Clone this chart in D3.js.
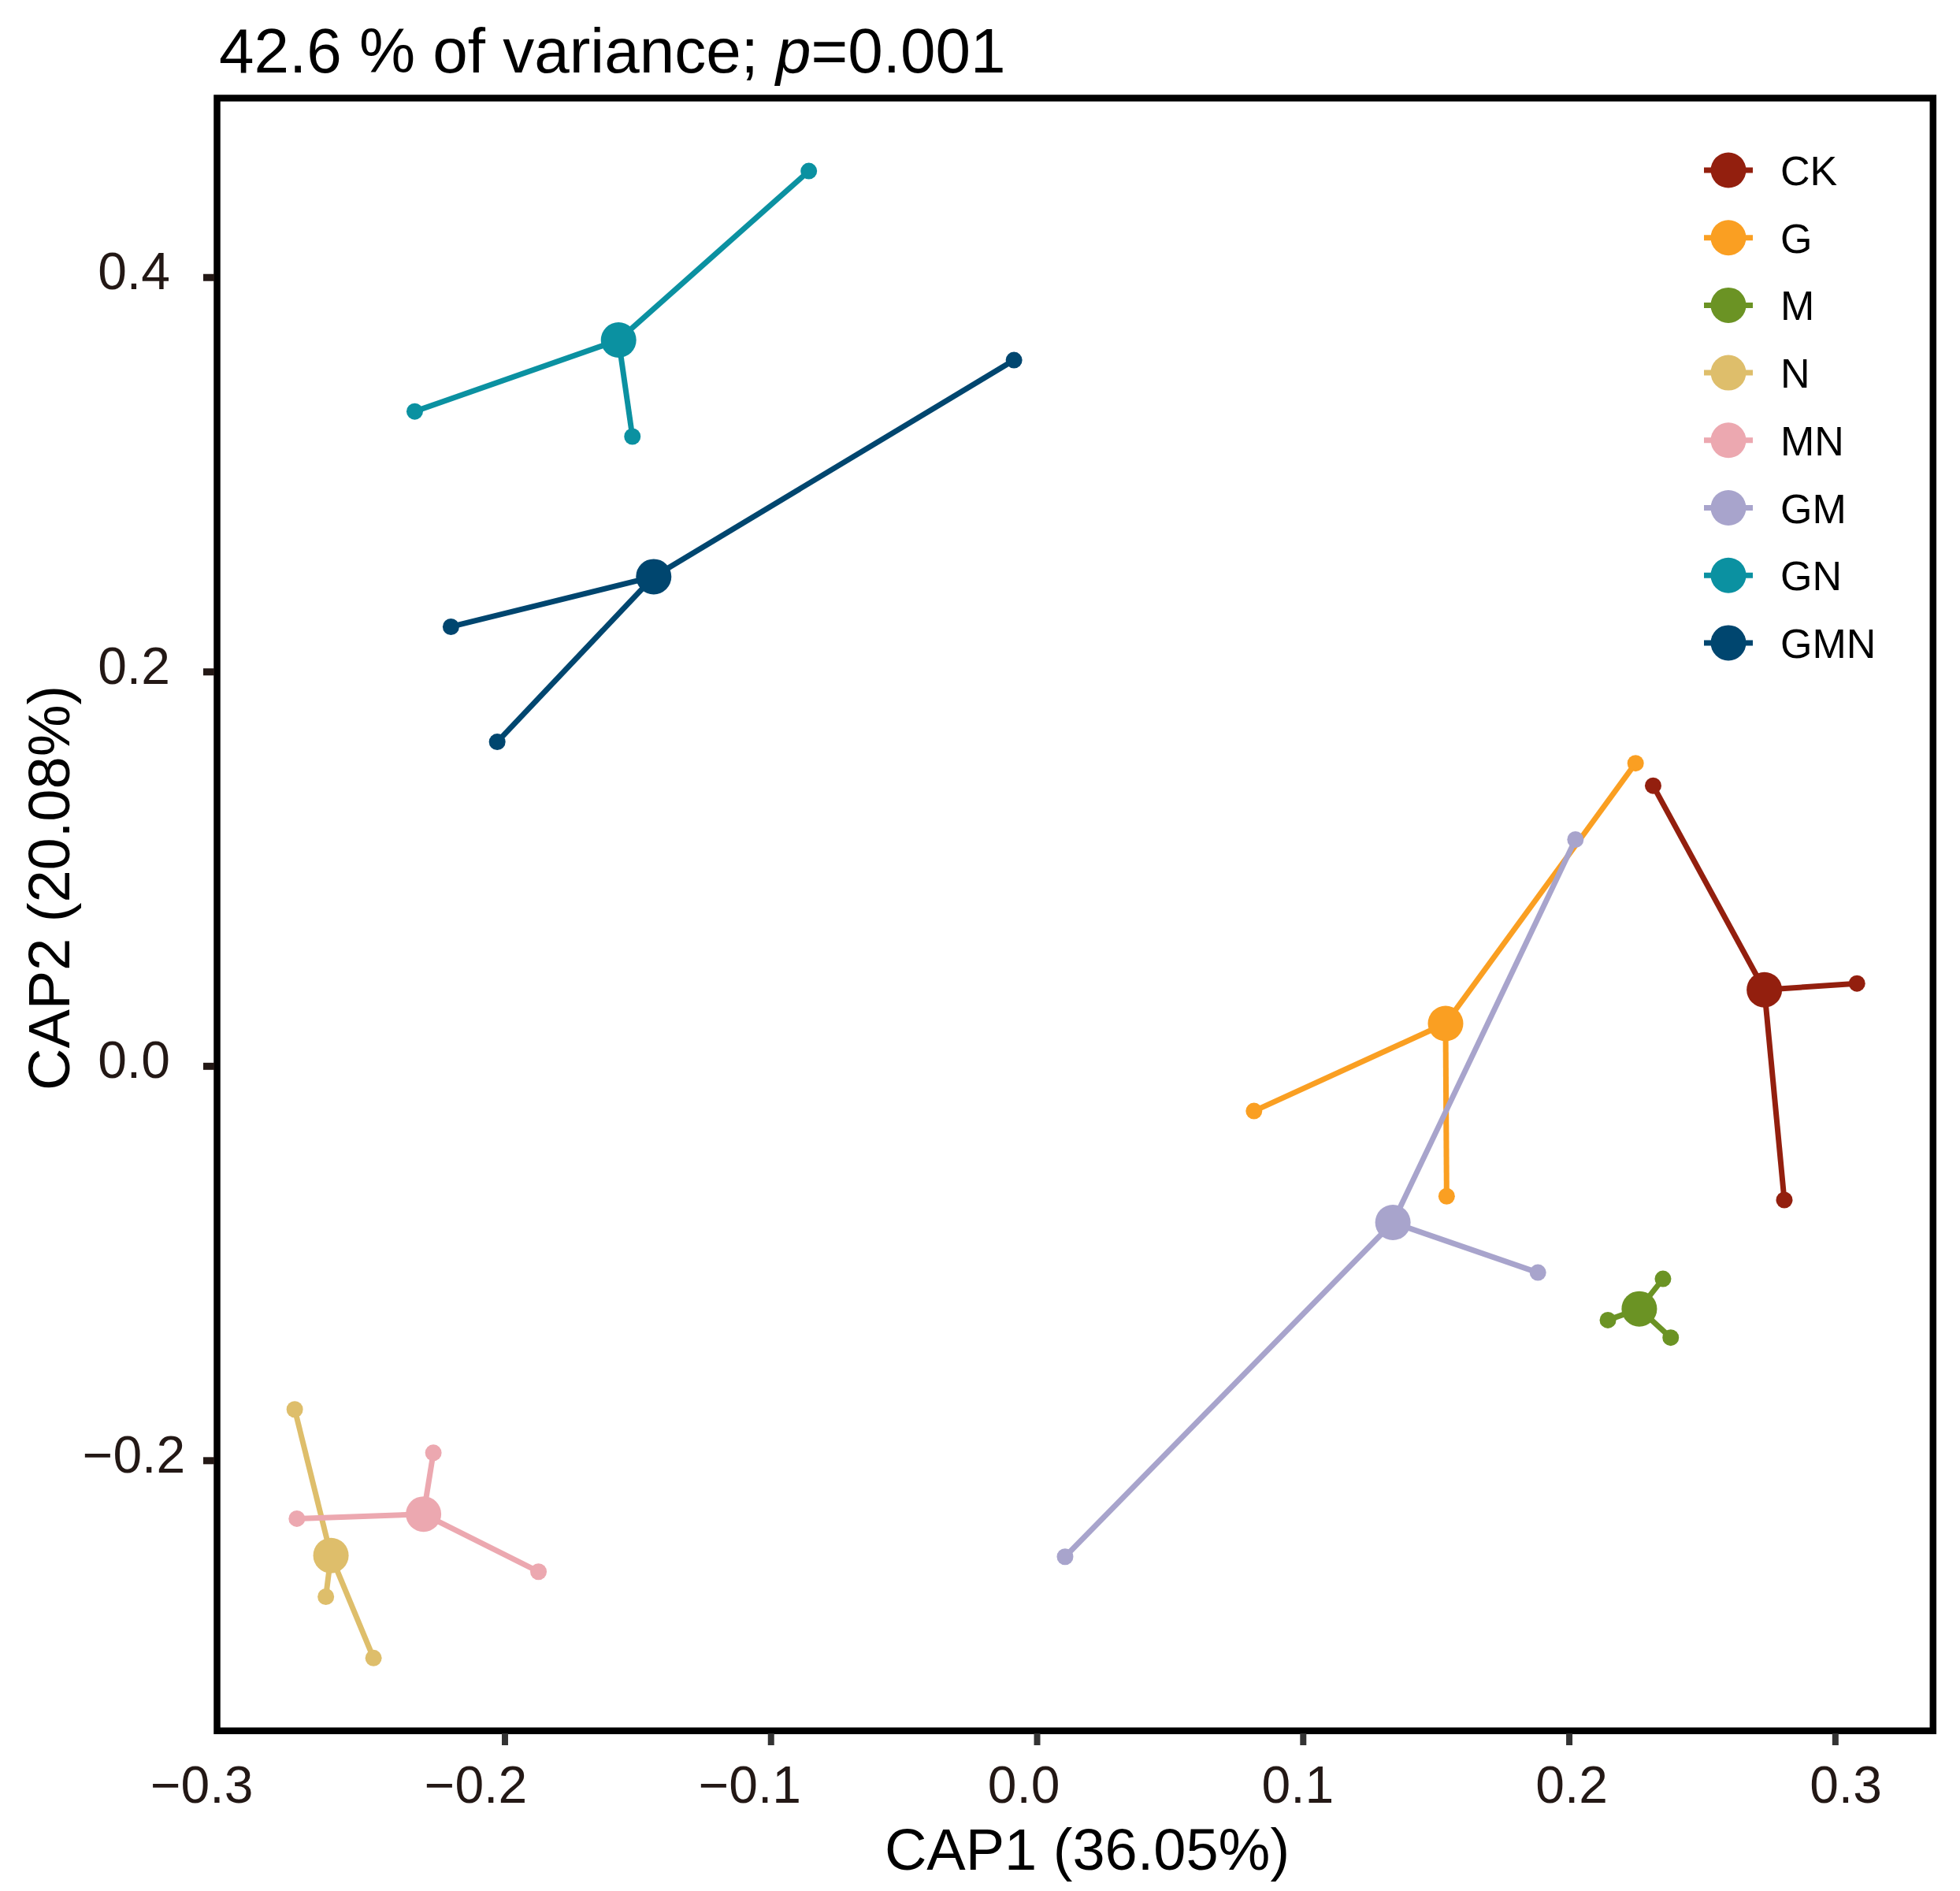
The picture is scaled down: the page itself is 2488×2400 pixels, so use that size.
<!DOCTYPE html>
<html>
<head>
<meta charset="utf-8">
<script src="https://cdn.jsdelivr.net/npm/d3@7"></script>
<style>
body { margin: 0; background: #fff; }
text { font-family: "Liberation Sans", Arial, sans-serif; }
</style>
</head>
<body>
<div id="chart"></div>
<script>
const W = 2488, H = 2400;

// groups, in legend order
const groups = ["CK", "G", "M", "N", "MN", "GM", "GN", "GMN"];
const colors = ["#931f0e", "#fa9f22", "#6b9324", "#debe6b", "#eca8b0", "#a8a4cc", "#0b91a1", "#00466f"];

// group centroids (CAP1, CAP2)
const centroidX = [0.2733, 0.1535, 0.2263, -0.2654, -0.2306, 0.1337, -0.1573, -0.1441];
const centroidY = [0.0388, 0.0217, -0.1230, -0.2481, -0.2271, -0.0792, 0.3683, 0.2483];

// samples per group (3 each)
const sampleX = [
	[0.2315, 0.3081, 0.2808],
	[0.2249, 0.0815, 0.1539],
	[0.2352, 0.2145, 0.2381],
	[-0.2790, -0.2673, -0.2494],
	[-0.2269, -0.2782, -0.1874],
	[0.2023, 0.1882, 0.0105],
	[-0.0858, -0.2339, -0.1521],
	[-0.0087, -0.2203, -0.2029]
];
const sampleY = [
	[0.1423, 0.0420, -0.0678],
	[0.1537, -0.0227, -0.0659],
	[-0.1078, -0.1287, -0.1376],
	[-0.1740, -0.2690, -0.3001],
	[-0.1960, -0.2294, -0.2563],
	[0.1150, -0.1046, -0.2487],
	[0.4540, 0.3321, 0.3194],
	[0.3581, 0.2229, 0.1645]
];

const xTicks = [-0.2, -0.1, 0.0, 0.1, 0.2, 0.3];
const xLabels = [-0.3, -0.2, -0.1, 0.0, 0.1, 0.2, 0.3];
const yTicks = [0.4, 0.2, 0.0, -0.2];

const x = d3.scaleLinear().domain([-0.3082, 0.3367]).range([275.5, 2453.8]);
const y = d3.scaleLinear().domain([-0.337, 0.491]).range([2196.7, 124.5]);
// tick labels sit on a slightly wider spacing than the ticks in the original
const xLab = d3.scaleLinear().domain([-0.2, 0.3]).range([604, 2343]);
const fmt = d => d3.format(".1f")(d).replace("-", "\u2212");

let svg = d3.select("#chart").append("svg")
	.attr("width", W)
	.attr("height", H);

svg.append("rect").attr("width", W).attr("height", H).attr("fill", "#fff");

// segments from centroid to samples
let segs = [];
groups.forEach(function (g, i) {
	sampleX[i].forEach(function (sx, j) {
		segs.push({g: i, x0: centroidX[i], y0: centroidY[i], x1: sx, y1: sampleY[i][j]});
	});
});

svg.append("g").selectAll("line")
	.data(segs)
	.enter().append("line")
	.attr("x1", d => x(d.x0))
	.attr("y1", d => y(d.y0))
	.attr("x2", d => x(d.x1))
	.attr("y2", d => y(d.y1))
	.attr("stroke", d => colors[d.g])
	.attr("stroke-width", 7);

svg.append("g").selectAll("circle")
	.data(segs)
	.enter().append("circle")
	.attr("cx", d => x(d.x1))
	.attr("cy", d => y(d.y1))
	.attr("r", 10.5)
	.attr("fill", d => colors[d.g]);

svg.append("g").selectAll("circle")
	.data(groups)
	.enter().append("circle")
	.attr("cx", (d, i) => x(centroidX[i]))
	.attr("cy", (d, i) => y(centroidY[i]))
	.attr("r", 22.5)
	.attr("fill", (d, i) => colors[i]);

// panel border
svg.append("rect")
	.attr("x", x.range()[0])
	.attr("y", y.range()[1])
	.attr("width", x.range()[1] - x.range()[0])
	.attr("height", y.range()[0] - y.range()[1])
	.attr("fill", "none")
	.attr("stroke", "#000")
	.attr("stroke-width", 8.5);

// x axis
svg.append("g").selectAll("line")
	.data(xTicks)
	.enter().append("line")
	.attr("x1", d => x(d)).attr("x2", d => x(d))
	.attr("y1", 2200).attr("y2", 2215)
	.attr("stroke", "#333")
	.attr("stroke-width", 8);

svg.append("g").selectAll("text")
	.data(xLabels)
	.enter().append("text")
	.attr("x", d => xLab(d))
	.attr("y", 2288)
	.attr("text-anchor", "middle")
	.attr("font-size", 66)
	.attr("fill", "#231815")
	.text(fmt);

// y axis
svg.append("g").selectAll("line")
	.data(yTicks)
	.enter().append("line")
	.attr("x1", 258).attr("x2", 272)
	.attr("y1", d => y(d)).attr("y2", d => y(d))
	.attr("stroke", "#231815")
	.attr("stroke-width", 9);

svg.append("g").selectAll("text")
	.data(yTicks)
	.enter().append("text")
	.attr("x", 170)
	.attr("y", d => y(d) + 15)
	.attr("text-anchor", "middle")
	.attr("font-size", 66)
	.attr("fill", "#231815")
	.text(fmt);

// axis titles
svg.append("text")
	.attr("x", 1380)
	.attr("y", 2373)
	.attr("text-anchor", "middle")
	.attr("font-size", 74)
	.attr("fill", "#000")
	.text("CAP1 (36.05%)");

svg.append("text")
	.attr("transform", "translate(88,1127) rotate(-90)")
	.attr("text-anchor", "middle")
	.attr("font-size", 74)
	.attr("fill", "#000")
	.text("CAP2 (20.08%)");

// title
let title = svg.append("text")
	.attr("x", 278)
	.attr("y", 92)
	.attr("font-size", 80)
	.attr("fill", "#000");
title.append("tspan").text("42.6 % of variance; ");
title.append("tspan").attr("font-style", "italic").text("p");
title.append("tspan").text("=0.001");

// legend
let leg = svg.append("g").selectAll("g")
	.data(groups)
	.enter().append("g")
	.attr("transform", (d, i) => "translate(2194," + (216 + i * 85.7) + ")");

leg.append("line")
	.attr("x1", -31).attr("x2", 31)
	.attr("stroke", (d, i) => colors[i])
	.attr("stroke-width", 7);

leg.append("circle")
	.attr("r", 22.5)
	.attr("fill", (d, i) => colors[i]);

leg.append("text")
	.attr("x", 66)
	.attr("y", 19)
	.attr("font-size", 52)
	.attr("fill", "#000")
	.text(d => d);
</script>
</body>
</html>
